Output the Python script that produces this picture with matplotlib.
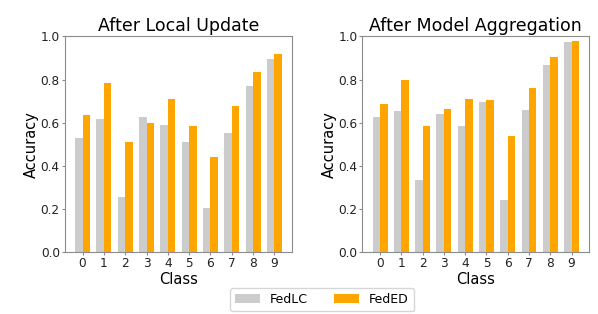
import numpy as np
import matplotlib
matplotlib.use("Agg")
import matplotlib.pyplot as plt

classes = list(range(10))
local_fedlc = [0.526, 0.617, 0.252, 0.627, 0.591, 0.510, 0.202, 0.552, 0.770, 0.894]
local_feded = [0.636, 0.785, 0.510, 0.596, 0.711, 0.586, 0.440, 0.675, 0.834, 0.919]
agg_fedlc = [0.627, 0.652, 0.334, 0.641, 0.586, 0.694, 0.240, 0.659, 0.868, 0.975]
agg_feded = [0.687, 0.798, 0.586, 0.661, 0.711, 0.703, 0.537, 0.760, 0.904, 0.977]
titles = ["After Local Update", "After Model Aggregation"]

fig = plt.figure(figsize=(5.98, 3.14), dpi=100)
ax1 = fig.add_axes([0.1082, 0.1984, 0.3806, 0.6854])
ax2 = fig.add_axes([0.6059, 0.1984, 0.3796, 0.6854])

w = 0.35
x = np.arange(len(classes))
spine_col = "#8c8c8c"
for ax, lc, ed, t in [(ax1, local_fedlc, local_feded, titles[0]), (ax2, agg_fedlc, agg_feded, titles[1])]:
    b1 = ax.bar(x - w / 2, lc, w, color="#cccccc", label="FedLC")
    b2 = ax.bar(x + w / 2, ed, w, color="#ffa500", label="FedED")
    ax.set_ylim(0, 1.0)
    ax.set_xticks(x)
    ax.set_xticklabels([str(c) for c in classes])
    ax.set_yticks([0.0, 0.2, 0.4, 0.6, 0.8, 1.0])
    ax.tick_params(labelsize=8.7, labelcolor="#222222", length=2.5, width=0.8, color=spine_col)
    ax.tick_params(axis="x", pad=1.5)
    ax.tick_params(axis="y", pad=1.0)
    for s in ax.spines.values():
        s.set_color(spine_col)
    ax.set_title(t, fontsize=12.5, pad=4)
    ax.set_xlabel("Class", fontsize=10.5, labelpad=1)
    ax.set_ylabel("Accuracy", fontsize=10.5, labelpad=1)

fig.legend(handles=[b1, b2], labels=["FedLC", "FedED"], loc="center", ncol=2,
           bbox_to_anchor=(322 / 598, 1 - 299.5 / 314), fontsize=9,
           handlelength=2.0, handletextpad=0.8, columnspacing=2.1,
           frameon=True, fancybox=True)

fig.savefig("out.png", dpi=100)
